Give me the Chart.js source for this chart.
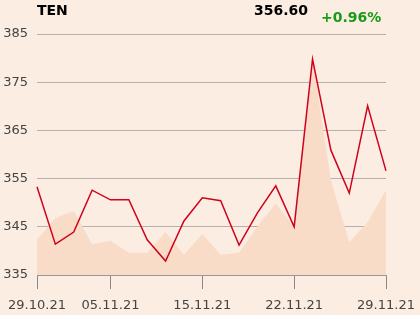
<!DOCTYPE html>
<html>
<head>
<meta charset="utf-8">
<script src="https://cdn.jsdelivr.net/npm/chart.js@4"></script>
<style>
  html, body { margin: 0; padding: 0; background: #fbede2; }
  #wrap { position: relative; width: 420px; height: 315px; }
  .hdr { position: absolute; font-family: "DejaVu Sans", sans-serif; font-weight: bold; font-size: 14px; line-height: 14px; }
</style>
</head>
<body>
<div id="wrap">
  <canvas id="ten-chart" width="420" height="315"></canvas>
  <div class="hdr" id="ticker" style="left:37px; top:3px; color:#000;">TEN</div>
  <div class="hdr" id="last" style="right:112px; top:3px; color:#000;">356.60</div>
  <div class="hdr" id="change" style="left:321px; top:10px; color:#1a9a1a;">+0.96%</div>
</div>
<script>
// trading days
let dates = ['29.10.21', '01.11.21', '02.11.21', '03.11.21', '05.11.21',
  '09.11.21', '10.11.21', '11.11.21', '12.11.21', '15.11.21',
  '16.11.21', '17.11.21', '18.11.21', '19.11.21', '22.11.21',
  '23.11.21', '24.11.21', '25.11.21', '26.11.21', '29.11.21'];

// close price (red line)
let closes = [353.3, 341.4, 343.9, 352.6, 350.6, 350.6, 342.3, 337.9, 346.2, 351.0,
  350.4, 341.2, 347.9, 353.5, 345.0, 379.8, 360.9, 352.0, 370.1, 356.6];

// shaded background series
let shade = [342.3, 346.8, 348.3, 341.4, 342.1, 339.6, 339.6, 343.9, 339.2, 343.5,
  339.2, 339.6, 345.0, 349.9, 345.0, 379.8, 354.7, 341.8, 346.0, 352.6];

let shownDates = ['29.10.21', '05.11.21', '15.11.21', '22.11.21', '29.11.21'];
let yTicks = [335, 345, 355, 365, 375, 385];

let context = document.querySelector('#ten-chart').getContext('2d');

let chart = new Chart(context, {
  type: 'line',
  data: {
    labels: dates,
    datasets: [
      {
        data: closes,
        borderColor: '#d0021b',
        borderWidth: 1.5,
        pointRadius: 0,
        tension: 0,
        fill: false,
      },
      {
        data: shade,
        borderWidth: 0,
        borderColor: 'rgba(0,0,0,0)',
        backgroundColor: '#f8dcc8',
        pointRadius: 0,
        tension: 0,
        fill: 'start',
      },
    ],
  },
  options: {
    responsive: false,
    animation: false,
    layout: { padding: { top: 34, right: 34, left: 0, bottom: 0 } },
    plugins: { legend: { display: false }, tooltip: { enabled: false } },
    scales: {
      x: {
        offset: false,
        afterFit: (scale) => { scale.height = 40; scale.paddingRight = 0; scale.paddingLeft = 0; },
        border: { display: true, color: '#999', width: 1 },
        grid: {
          drawOnChartArea: false,
          drawTicks: true,
          tickLength: 14,
          color: (ctx) => shownDates.includes(dates[ctx.index]) ? '#888' : 'rgba(0,0,0,0)',
        },
        ticks: {
          autoSkip: false,
          maxRotation: 0,
          padding: 9,
          color: '#444',
          font: { family: 'DejaVu Sans', size: 13 },
          callback: (val, i) => shownDates.includes(dates[i]) ? dates[i] : '',
        },
      },
      y: {
        min: 335,
        max: 385,
        afterFit: (scale) => { scale.width = 37; },
        afterBuildTicks: (scale) => { scale.ticks = yTicks.map((v) => ({ value: v })); },
        border: { display: false },
        grid: { color: '#b5b0ab', drawTicks: false, lineWidth: 1 },
        ticks: {
          padding: 9,
          color: '#444',
          font: { family: 'DejaVu Sans', size: 13 },
        },
      },
    },
  },
});
</script>
</body>
</html>
